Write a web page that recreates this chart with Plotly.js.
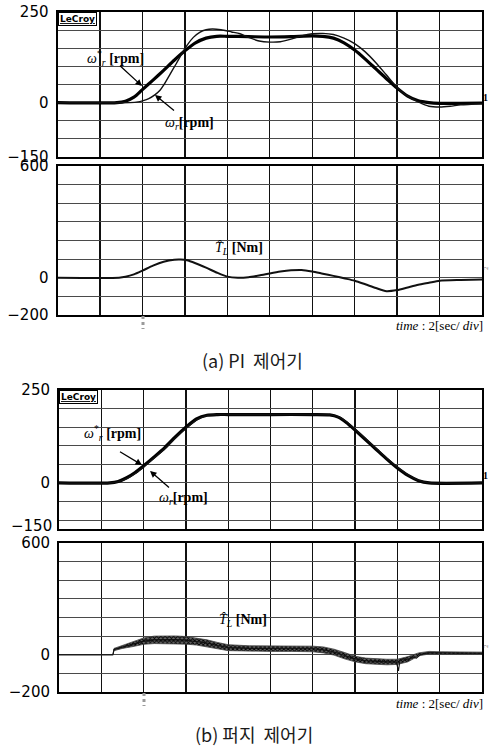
<!DOCTYPE html>
<html>
<head>
<meta charset="utf-8">
<script src="https://cdn.plot.ly/plotly-3.0.1.min.js"></script>
<style>
  html, body { margin: 0; padding: 0; background: #fff; }
  #chart { width: 489px; height: 751px; }
</style>
</head>
<body>
<div id="chart"></div>
<script>
// ---- time axis (2 s per division, 10 divisions) ----
const timeTicks = [0, 2, 4, 6, 8, 10, 12, 14, 16, 18, 20];

// ---- speed axis ticks / labels ----
const speedTicks = [-150, -100, -50, 0, 50, 100, 150, 200, 250];
const speedLabels = ['−150', '', '', '0', '', '', '', '', '250'];
const speedTicksB = [-100, -50, 0, 50, 100, 150, 200, 250];
const speedLabelsB = ['', '', '0', '', '', '', '', '250'];

// ---- torque axis ticks / labels ----
const torqueTicks = [-200, -100, 0, 100, 200, 300, 400, 500, 600];
const torqueLabels = ['−200', '', '0', '', '', '', '', '', '600'];

// ---- (a) PI controller: speed reference ω*r [rpm] ----
const piRefT = [0, 2.8, 3.2, 3.6, 4.0, 4.5, 5.0, 5.5, 6.0, 6.5, 7.0, 7.5, 8.0, 9.0, 10.0, 11.0, 12.0, 12.5, 13.0, 13.5, 14.0, 14.5, 15.0, 15.5, 16.0, 16.5, 17.0, 17.5, 18.0, 19.0, 20.0];
const piRefW = [0, 0, 4, 15, 36, 62, 89, 117, 143, 165, 178, 183, 183, 182, 181, 182, 184, 183, 178, 165, 145, 120, 93, 66, 40, 18, 5, 0, -2, -2, -1];

// ---- (a) PI controller: actual speed ωr [rpm] ----
const piActT = [0, 3.4, 3.8, 4.0, 4.3, 4.6, 4.83, 5.0, 5.3, 5.6, 5.85, 6.1, 6.4, 6.7, 7.0, 7.3, 7.7, 8.2, 8.6, 9.0, 9.5, 10.0, 10.5, 11.0, 11.5, 12.0, 12.5, 13.0, 13.5, 14.0, 14.5, 15.0, 15.5, 16.0, 16.5, 17.0, 17.5, 18.0, 18.5, 19.0, 20.0];
const piActW = [0, 0, 2, 5, 11, 22, 34, 48, 78, 108, 134, 158, 180, 194, 201, 203, 201, 195, 190, 180, 170, 167, 168, 175, 184, 190, 191, 188, 178, 163, 140, 110, 76, 42, 18, 2, -10, -12, -10, -6, -3];

// ---- (a) PI controller: estimated load torque [Nm] ----
const piTqT = [0, 2.9, 3.2, 3.6, 4.0, 4.5, 5.0, 5.5, 5.8, 6.1, 6.5, 7.0, 7.5, 8.0, 8.5, 9.0, 9.5, 10.0, 10.5, 11.0, 11.5, 12.0, 12.5, 13.0, 13.5, 14.0, 14.5, 15.0, 15.5, 16.0, 16.5, 17.0, 17.5, 18.0, 19.0, 20.0];
const piTq = [0, 0, 5, 18, 38, 65, 86, 97, 98, 94, 78, 54, 28, 6, 0, 3, 12, 23, 33, 40, 42, 34, 22, 10, -3, -16, -35, -55, -72, -66, -52, -38, -27, -16, -12, -10];

// ---- (b) fuzzy controller: speed reference ω*r [rpm] ----
const fzRefT = [0, 2.4, 2.8, 3.2, 3.6, 4.0, 4.5, 5.0, 5.5, 6.0, 6.5, 7.0, 7.5, 8.0, 10.0, 12.0, 12.8, 13.2, 13.6, 14.0, 14.5, 15.0, 15.5, 16.0, 16.5, 17.0, 17.5, 20.0];
const fzRefW = [0, 0, 4, 14, 28, 46, 70, 95, 124, 150, 172, 182, 184, 184, 184, 184, 183, 177, 162, 142, 116, 90, 64, 40, 20, 6, 0, 0];

// ---- (b) fuzzy controller: actual speed ωr [rpm] ----
const fzActT = [0, 2.45, 2.85, 3.25, 3.65, 4.05, 4.55, 5.05, 5.55, 6.05, 6.55, 7.05, 7.55, 8.0, 10.0, 12.0, 12.85, 13.25, 13.65, 14.05, 14.55, 15.05, 15.55, 16.05, 16.55, 17.05, 17.55, 20.0];
const fzActW = [0, 0, 4, 13, 27, 45, 69, 94, 123, 149, 171, 182, 184, 184, 184, 184, 183, 177, 162, 142, 116, 90, 64, 40, 20, 6, 0, 0];

// ---- (b) fuzzy controller: estimated load torque [Nm] (ripple band + mean) ----
const fzBandT = [0, 2.55, 2.6, 3.0, 3.5, 4.0, 4.5, 5.0, 5.5, 6.0, 6.5, 7.0, 7.5, 8.0, 9.0, 10.0, 11.0, 12.0, 12.5, 13.0, 13.5, 14.0, 14.5, 15.0, 15.5, 16.0, 16.5, 17.0, 17.5, 18.0, 19.0, 20.0];
const fzBandHi = [0, 0, 34, 50, 68, 90, 100, 102, 101, 98, 90, 80, 66, 54, 48, 48, 47, 46, 42, 30, 12, -8, -18, -22, -24, -24, -10, 10, 18, 16, 14, 14];
const fzBandLo = [0, 0, 22, 34, 44, 56, 60, 60, 60, 57, 52, 44, 32, 22, 18, 18, 18, 16, 10, -2, -22, -38, -48, -52, -54, -52, -38, -6, 4, 3, 3, 3];
const fzTqT = [0, 2.55, 2.6, 3.0, 3.5, 4.0, 4.5, 5.0, 5.5, 6.0, 6.5, 7.0, 7.5, 8.0, 9.0, 10.0, 11.0, 12.0, 12.5, 13.0, 13.5, 14.0, 14.5, 15.0, 15.5, 15.95, 16.05, 16.12, 16.3, 16.5, 16.7, 16.9, 17.1, 17.5, 18.0, 19.0, 20.0];
const fzTq = [0, 0, 28, 42, 56, 73, 80, 82, 81, 78, 72, 63, 50, 39, 34, 34, 33, 32, 27, 15, -4, -22, -32, -36, -38, -38, -87, -30, -22, -28, -12, -18, 2, 11, 9, 8, 8];

// ---- page geometry helpers (pixel -> paper fraction) ----
const W = 489, H = 751;
const fx = p => p / W;
const fy = p => 1 - p / H;

const frame = {
  showline: true, mirror: true, linecolor: '#000', linewidth: 2,
  zeroline: false, fixedrange: true
};
function xAxis(left, anchor) {
  return Object.assign({}, frame, {
    domain: [fx(left), fx(482)], anchor: anchor, range: [0, 20],
    tickmode: 'array', tickvals: timeTicks, showticklabels: false, ticks: '',
    showgrid: true, gridcolor: '#111', gridwidth: 1.4
  });
}
function yAxis(top, bottom, anchor, range, vals, labels) {
  return Object.assign({}, frame, {
    domain: [fy(bottom), fy(top)], anchor: anchor, range: range,
    tickmode: 'array', tickvals: vals, ticktext: labels,
    ticks: 'outside', ticklen: 4, tickcolor: 'rgba(0,0,0,0)',
    showgrid: true, gridcolor: '#4a4a4a', gridwidth: 1,
    tickfont: { family: 'DejaVu Sans', size: 15, color: '#000' }
  });
}

const thick = { color: '#000', width: 3.2, shape: 'spline', smoothing: 0.7 };
const thin = { color: '#111', width: 1.4, shape: 'spline', smoothing: 0.7 };

const traces = [
  { x: piRefT, y: piRefW, xaxis: 'x', yaxis: 'y', mode: 'lines', line: thick, hoverinfo: 'skip' },
  { x: piActT, y: piActW, xaxis: 'x', yaxis: 'y', mode: 'lines', line: thin, hoverinfo: 'skip' },
  { x: piTqT, y: piTq, xaxis: 'x2', yaxis: 'y2', mode: 'lines',
    line: { color: '#111', width: 2, shape: 'spline', smoothing: 0.7 }, hoverinfo: 'skip' },
  { x: fzRefT, y: fzRefW, xaxis: 'x3', yaxis: 'y3', mode: 'lines', line: thick, hoverinfo: 'skip' },
  { x: fzActT, y: fzActW, xaxis: 'x3', yaxis: 'y3', mode: 'lines', line: thin, hoverinfo: 'skip' },
  { x: fzBandT, y: fzBandLo, xaxis: 'x4', yaxis: 'y4', mode: 'lines',
    line: { color: '#444', width: 0.8 }, hoverinfo: 'skip' },
  { x: fzBandT, y: fzBandHi, xaxis: 'x4', yaxis: 'y4', mode: 'lines', fill: 'tonexty',
    fillcolor: '#4a4a4a',
    fillpattern: { shape: 'x', fgcolor: '#000', bgcolor: '#666', size: 3, solidity: 0.55 },
    line: { color: '#444', width: 0.8 }, hoverinfo: 'skip' },
  { x: fzTqT, y: fzTq, xaxis: 'x4', yaxis: 'y4', mode: 'lines',
    line: { color: '#111', width: 1.1 }, hoverinfo: 'skip' }
];

const serif = 'Liberation Serif';
function label(xp, yp, text, anchor, size) {
  return { xref: 'paper', yref: 'paper', x: fx(xp), y: fy(yp), text: text, showarrow: false,
    xanchor: anchor || 'left', yanchor: 'middle',
    font: { family: serif, size: size || 14, color: '#000' } };
}
function arrow(hx, hy, ax, ay) {
  return { xref: 'paper', yref: 'paper', x: fx(hx), y: fy(hy), ax: ax, ay: ay, text: ' ',
    showarrow: true, arrowhead: 2, arrowsize: 1, arrowwidth: 1.3, arrowcolor: '#000' };
}
function brand(xp, yp) {
  return { xref: 'paper', yref: 'paper', x: fx(xp), y: fy(yp), xanchor: 'left', yanchor: 'top',
    text: '<b><u>LeCroy</u></b>', showarrow: false, bordercolor: '#000', borderwidth: 1,
    borderpad: 1, bgcolor: '#fff', font: { family: 'DejaVu Sans', size: 9, color: '#000' } };
}
function chan(xp, yp, txt, grey) {
  return { xref: 'paper', yref: 'paper', x: fx(xp), y: fy(yp), xanchor: 'left', yanchor: 'middle',
    text: txt, showarrow: false, textangle: grey ? -90 : 0,
    font: { family: serif, size: grey ? 7 : 10, color: grey ? '#888' : '#000' } };
}

const omegaRef = '<i>ω</i><sup>*</sup><sub><i>r</i></sub> <b>[rpm]</b>';
const omegaAct = '<i>ω</i><sub><i>r</i></sub><b>[rpm]</b>';
const torqueTxt = '<i>T̂</i><sub><i>L</i></sub> <b>[Nm]</b>';
const timeTxt = '<i>time</i> : 2[sec/ <i>div</i>]';

const annotations = [
  brand(57.5, 12), brand(59, 390),
  label(85, 58, omegaRef), arrow(142, 86, -25, -23),
  label(163, 123, omegaAct), arrow(155, 95, 22, 18),
  label(213, 248, torqueTxt),
  label(485, 325, timeTxt, 'right', 13),
  label(82, 433, omegaRef), arrow(142, 465, -25, -15),
  label(157, 498, omegaAct), arrow(150, 471, 22, 19),
  label(217, 620, torqueTxt),
  label(485, 703, timeTxt, 'right', 13),
  { xref: 'paper', yref: 'paper', x: fx(54), y: fy(526), xanchor: 'right', yanchor: 'middle',
    text: '−150', showarrow: false, font: { family: 'DejaVu Sans', size: 15, color: '#000' } },
  chan(481, 98, '<b>1</b>'), chan(481, 475, '<b>1</b>'),
  chan(480, 268, '2', true), chan(480, 646, '2', true),
  { xref: 'paper', yref: 'paper', x: fx(252), y: fy(360), text: '(a) PI  제어기', showarrow: false,
    xanchor: 'center', yanchor: 'middle',
    font: { family: 'Noto Sans CJK KR', size: 18, color: '#1a1a1a' } },
  { xref: 'paper', yref: 'paper', x: fx(254), y: fy(734), text: '(b) 퍼지  제어기', showarrow: false,
    xanchor: 'center', yanchor: 'middle',
    font: { family: 'Noto Sans CJK KR', size: 18, color: '#1a1a1a' } }
];

// trigger position markers under each torque trace
const shapes = [
  { type: 'line', xref: 'paper', yref: 'paper', x0: fx(143), x1: fx(143), y0: fy(316), y1: fy(329),
    line: { color: '#9a9a9a', width: 3, dash: 'dot' } },
  { type: 'line', xref: 'paper', yref: 'paper', x0: fx(144), x1: fx(144), y0: fy(693), y1: fy(706),
    line: { color: '#9a9a9a', width: 3, dash: 'dot' } }
];

const layout = {
  width: W, height: H, margin: { l: 0, r: 0, t: 0, b: 0 },
  paper_bgcolor: '#fff', plot_bgcolor: '#fff', showlegend: false,
  xaxis: xAxis(57.5, 'y'),
  yaxis: yAxis(12, 157, 'x', [-150, 250], speedTicks, speedLabels),
  xaxis2: xAxis(57.5, 'y2'),
  yaxis2: yAxis(166, 315, 'x2', [-200, 600], torqueTicks, torqueLabels),
  xaxis3: xAxis(59, 'y3'),
  yaxis3: yAxis(390, 529, 'x3', [-124, 250], speedTicksB, speedLabelsB),
  xaxis4: xAxis(59, 'y4'),
  yaxis4: yAxis(543, 692, 'x4', [-200, 600], torqueTicks, torqueLabels),
  annotations: annotations,
  shapes: shapes
};

Plotly.newPlot('chart', traces, layout, { staticPlot: true, displayModeBar: false });
</script>
</body>
</html>
